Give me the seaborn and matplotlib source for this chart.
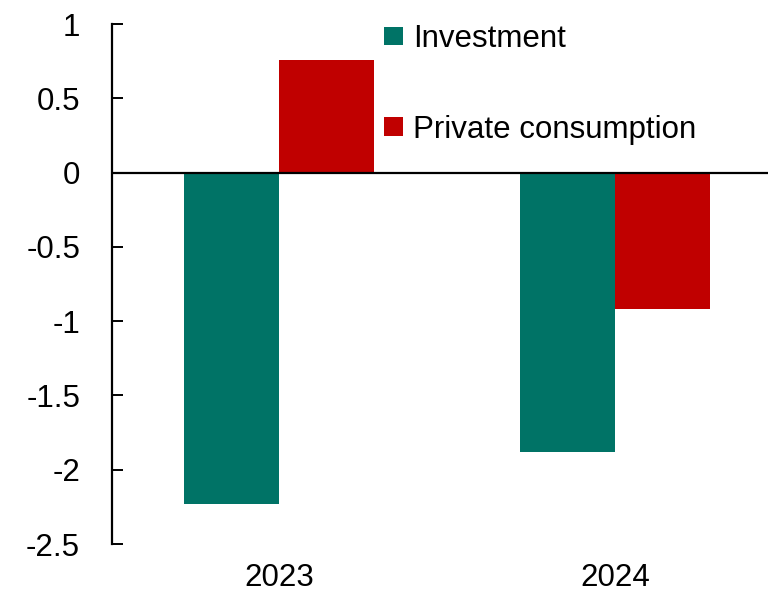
import matplotlib
matplotlib.use("Agg")
import matplotlib.pyplot as plt
import seaborn as sns
import pandas as pd
from matplotlib import font_manager

years = ["2023", "2024"]
series = ["Investment", "Private consumption"]
investment = [-2.23, -1.88]
private_consumption = [0.76, -0.92]
colors = ["#007366", "#C00000"]
yticks = [1, 0.5, 0, -0.5, -1, -1.5, -2, -2.5]
ytick_labels = ["1", "0.5", "0", "-0.5", "-1", "-1.5", "-2", "-2.5"]

df = pd.DataFrame({
    "year": years * 2,
    "series": [series[0]] * 2 + [series[1]] * 2,
    "value": investment + private_consumption,
})

sns.set_theme(style="white")
names = {f.name for f in font_manager.fontManager.ttflist}
fam = "Liberation Sans Narrow" if "Liberation Sans Narrow" in names else "Liberation Sans"
plt.rcParams["font.family"] = [fam, "DejaVu Sans"]
plt.rcParams["text.color"] = "black"
FS = 22.5

fig = plt.figure(figsize=(7.68, 6.06), dpi=100)
ax = fig.add_axes([112 / 768, 62 / 606, 1 - 112 / 768, 520 / 606])
sns.barplot(data=df, x="year", y="value", hue="series", palette=colors,
            width=0.566, saturation=1, ax=ax, legend=True, linewidth=0)

ax.set_xlim(-0.497, 1.455)
ax.set_ylim(-2.5, 1)
ax.axhline(0, color="black", lw=1.6, zorder=5)
ax.set_yticks(yticks)
ax.set_yticklabels(ytick_labels)
ax.tick_params(axis="y", direction="in", length=8, width=1.4, pad=23,
               labelsize=FS, colors="black", left=True)
ax.tick_params(axis="x", length=0, pad=14, labelsize=FS, colors="black")
ax.set_xlabel("")
ax.set_ylabel("")
for s in ["top", "right", "bottom"]:
    ax.spines[s].set_visible(False)
ax.spines["left"].set_color("black")
ax.spines["left"].set_linewidth(1.6)

handles, labels = ax.get_legend_handles_labels()
leg = ax.legend(handles, labels, loc="upper left", bbox_to_anchor=(384 / 768, 1 - 24 / 606),
                bbox_transform=fig.transFigure, frameon=False, fontsize=FS,
                handlelength=0.62, handleheight=0.55, handletextpad=0.3,
                labelspacing=1.95, borderaxespad=0, borderpad=0)
for t in leg.get_texts():
    t.set_color("black")

fig.savefig("out.png", dpi=100)
